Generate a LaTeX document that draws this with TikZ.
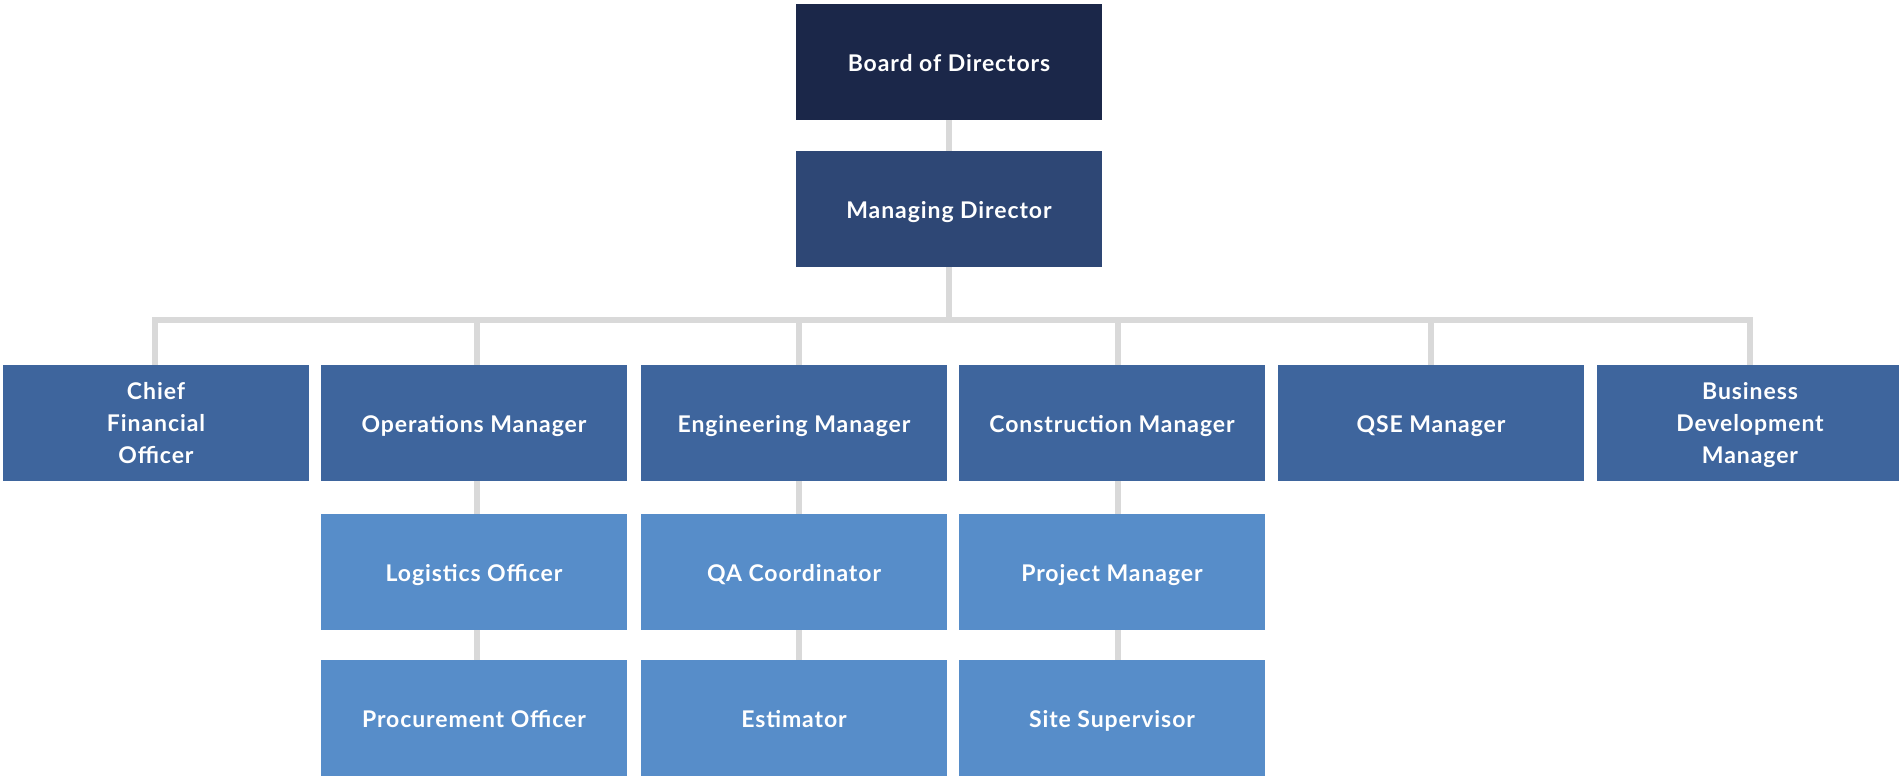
\documentclass[tikz,border=0pt]{standalone}
\usepackage{fontspec}
\setmainfont{Lato}[LetterSpace=4.0]
\definecolor{cBoard}{HTML}{1B2749}
\definecolor{cMD}{HTML}{2E4775}
\definecolor{cMgr}{HTML}{3E659D}
\definecolor{cSub}{HTML}{578DC9}
\definecolor{cLine}{HTML}{D9D9D9}
\begin{document}
\begin{tikzpicture}[x=1pt,y=-1pt,
  box/.style={rectangle, inner sep=0pt, minimum width=306pt, minimum height=116pt,
    text=white, font=\fontsize{23}{32}\selectfont\bfseries, align=center, text depth=0pt},
  one/.style={box, text height=19pt},
  conn/.style={draw=cLine, line width=6pt, line join=miter}]
\useasboundingbox (0,0) rectangle (1899,776);
% boxes
\node[one, fill=cBoard] (bod) at (949,62) {Board of Directors};
\node[one, fill=cMD] (md) at (949,209) {Managing Director};
\node[box, fill=cMgr] (cfo) at (156,423) {Chief\\Financial\\Officer};
\node[one, fill=cMgr] (ops) at (474,423) {Operations Manager};
\node[one, fill=cMgr] (eng) at (794,423) {Engineering Manager};
\node[one, fill=cMgr] (con) at (1112,423) {Construction Manager};
\node[one, fill=cMgr] (qse) at (1431,423) {QSE Manager};
\node[box, fill=cMgr] (bdm) at (1750,423) {Business\\Development\\Manager};
\node[one, fill=cSub] (log) at (474,572) {Logistics Officer};
\node[one, fill=cSub] (qa) at (794,572) {QA Coordinator};
\node[one, fill=cSub] (pm) at (1112,572) {Project Manager};
\node[one, fill=cSub] (proc) at (474,718) {Procurement Officer};
\node[one, fill=cSub] (est) at (794,718) {Estimator};
\node[one, fill=cSub] (ss) at (1112,718) {Site Supervisor};
% connectors
\coordinate (bar) at (949,320);
\draw[conn] (bod.south) -- (md.north);
\draw[conn] (md.south) -- (bar);
\draw[conn] ([xshift=-1pt]cfo.north) |- (bar) -| (bdm.north);
\draw[conn] ([xshift=3pt]ops.north) -- ([xshift=3pt]ops.north |- bar);
\draw[conn] ([xshift=5pt]eng.north) -- ([xshift=5pt]eng.north |- bar);
\draw[conn] ([xshift=6pt]con.north) -- ([xshift=6pt]con.north |- bar);
\draw[conn] (qse.north) -- (qse.north |- bar);
\draw[conn] ([xshift=3pt]ops.south) -- ([xshift=3pt]log.north);
\draw[conn] ([xshift=3pt]log.south) -- ([xshift=3pt]proc.north);
\draw[conn] ([xshift=5pt]eng.south) -- ([xshift=5pt]qa.north);
\draw[conn] ([xshift=5pt]qa.south) -- ([xshift=5pt]est.north);
\draw[conn] ([xshift=6pt]con.south) -- ([xshift=6pt]pm.north);
\draw[conn] ([xshift=6pt]pm.south) -- ([xshift=6pt]ss.north);
\end{tikzpicture}
\end{document}
